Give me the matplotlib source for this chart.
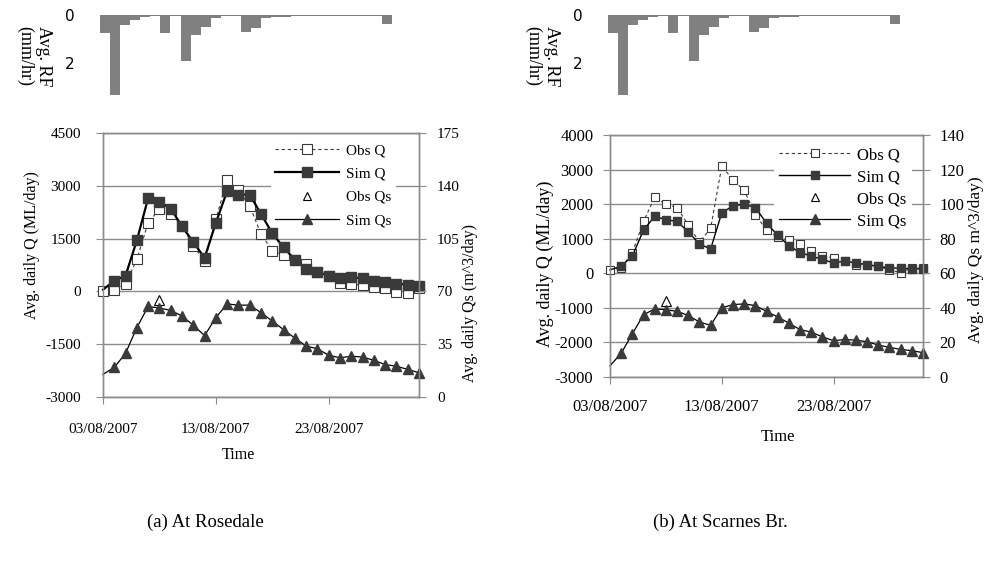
import matplotlib
matplotlib.use("Agg")
import matplotlib.pyplot as plt
import matplotlib.dates as mdates
import numpy as np
import pandas as pd
from matplotlib.lines import Line2D

plt.rcParams["axes.unicode_minus"] = False

W, H = 984, 564

# ---- data -------------------------------------------------------------
dates = pd.date_range("2007-08-03", "2007-08-31", freq="D")
tick_dates = pd.to_datetime(["2007-08-03", "2007-08-13", "2007-08-23"])

# catchment-average rainfall (mm/hr), one bar per day
rain = [0.76, 4.0, 0.41, 0.20, 0.07, 0.04, 0.76, 0.04, 1.89, 0.83,
        0.48, 0.14, 0.04, 0.04, 0.72, 0.55, 0.14, 0.07, 0.07, 0.05,
        0.05, 0.05, 0.05, 0.05, 0.05, 0.05, 0.05, 0.05, 0.37]

# Rosedale
rose_obs_q = [0, 50, 200, 910, 1950, 2340, 2190, 1860, 1300, 850,
              2050, 3170, 2870, 2430, 1630, 1160, 1020, 900, 770, 560,
              430, 240, 220, 170, 125, 105, -20, -40, 90]
rose_sim_q = [50, 300, 450, 1450, 2650, 2550, 2350, 1850, 1400, 950,
              1950, 2850, 2750, 2750, 2200, 1650, 1250, 900, 650, 550,
              450, 380, 400, 370, 300, 260, 220, 190, 140]
rose_sim_qs = [15, 19.6, 29, 46, 60, 59, 57.4, 53.7, 47.6, 40.7,
               52.6, 61.7, 60.9, 60.9, 55.9, 50.4, 44.6, 39.1, 33.7, 32,
               27.6, 26, 27, 26.5, 24.3, 21.5, 20.4, 18.3, 16.1]
rose_obs_qs = [np.nan] * 5 + [64] + [np.nan] * 23

# Scarnes Bridge
scar_obs_q = [100, 150, 600, 1500, 2200, 2000, 1900, 1400, 900, 1300,
              3100, 2700, 2400, 1700, 1250, 1050, 950, 850, 650, 500,
              450, 350, 250, 250, 200, 100, 20, 150, 150]
scar_sim_q = [100, 200, 500, 1250, 1650, 1550, 1500, 1200, 850, 700,
              1750, 1950, 2000, 1900, 1450, 1100, 800, 600, 500, 400,
              300, 350, 300, 250, 200, 150, 150, 130, 130]
scar_sim_qs = [6.5, 13.7, 25, 36, 39.4, 38.9, 38, 35.6, 31.8, 29.9,
               40, 41.9, 42.3, 41.3, 38, 34.7, 31.2, 27.4, 26, 23.2,
               21, 21.7, 21.3, 20.4, 18.5, 17.1, 16, 15.2, 14.1]
scar_obs_qs = [np.nan] * 5 + [44] + [np.nan] * 23

q_ticks_rose = [-3000, -1500, 0, 1500, 3000, 4500]
qs_ticks_rose = [0, 35, 70, 105, 140, 175]
q_ticks_scar = [-3000, -2000, -1000, 0, 1000, 2000, 3000, 4000]
qs_ticks_scar = [0, 20, 40, 60, 80, 100, 120, 140]

legend_labels = ["Obs Q", "Sim Q", "Obs Qs", "Sim Qs"]

# ---- styling ----------------------------------------------------------
SERIF = "Liberation Serif"
GRID = "#8c8c8c"
DARK = "#3a3a3a"
BAR = "#808080"


def box(x0, y0, x1, y1):
    return [x0 / W, 1 - y1 / H, (x1 - x0) / W, (y1 - y0) / H]


fig = plt.figure(figsize=(W / 100, H / 100), dpi=100)


def rain_panel(x0, x1):
    ax = fig.add_axes(box(x0, 15, x1, 95))
    ax.bar(np.arange(len(rain)), rain, width=1.0, align="edge",
           color=BAR, linewidth=0)
    ax.set_xlim(0, len(rain))
    ax.set_ylim(3.3, 0)
    ax.set_yticks([0, 2])
    ax.set_yticklabels(["0", "2"], fontsize=11, family="DejaVu Sans")
    ax.tick_params(axis="y", length=0, pad=18)
    ax.set_xticks([])
    for s in ax.spines.values():
        s.set_visible(False)
    return ax


def flow_panel(rect, obs_q, sim_q, obs_qs, sim_qs, qt, qst, fs, ms_sq,
               ms_tri, simq_lw, xpad, ypadl, ypadr, leg_anchor, leg_fs,
               leg_space, leg_hl):
    ax = fig.add_axes(rect)
    ax2 = ax.twinx()
    ax.plot(dates, obs_q, ls=(0, (3, 2.5)), lw=0.8, color=DARK,
            marker="s", ms=ms_sq, mfc="white", mec=DARK, mew=0.8,
            clip_on=False, zorder=3)
    ax.plot(dates, sim_q, ls="-", lw=simq_lw, color="black",
            marker="s", ms=ms_sq, mfc=DARK, mec=DARK,
            markevery=list(range(1, len(dates))),
            clip_on=False, zorder=4)
    ax2.plot(dates, obs_qs, ls="none", marker="^", ms=ms_tri,
             mfc="white", mec="black", mew=0.8, clip_on=False)
    ax2.plot(dates, sim_qs, ls="-", lw=0.9, color="black",
             marker="^", ms=ms_tri, mfc=DARK, mec=DARK,
             markevery=list(range(1, len(dates))), clip_on=False)

    ax.set_xlim(dates[0], dates[-1])
    ax.set_ylim(qt[0], qt[-1])
    ax.set_yticks(qt)
    ax2.set_ylim(qst[0], qst[-1])
    ax2.set_yticks(qst)
    ax.set_xticks(tick_dates)
    ax.xaxis.set_major_formatter(mdates.DateFormatter("%d/%m/%Y"))
    ax.grid(axis="y", color=GRID, lw=1.0, zorder=0.5)
    ax.set_axisbelow(True)

    for a in (ax, ax2):
        for s in a.spines.values():
            s.set_color(GRID)
            s.set_linewidth(1.0)
    ax.tick_params(axis="x", direction="out", length=5, color=GRID,
                   pad=xpad, labelsize=fs)
    ax.tick_params(axis="y", direction="out", length=5, color=GRID,
                   pad=ypadl, labelsize=fs)
    ax2.tick_params(axis="y", direction="out", length=5, color=GRID,
                    pad=ypadr, labelsize=fs)
    for lab in ax.get_xticklabels() + ax.get_yticklabels() + ax2.get_yticklabels():
        lab.set_family(SERIF)

    h1 = Line2D([], [], ls=(0, (3, 2.5)), lw=0.8, color=DARK, marker="s",
                ms=ms_sq, mfc="white", mec=DARK, mew=0.8)
    h2 = Line2D([], [], ls="-", lw=simq_lw, color="black", marker="s",
                ms=ms_sq, mfc=DARK, mec=DARK)
    h3 = Line2D([], [], ls="none", marker="^", ms=ms_tri * 0.8,
                mfc="white", mec="black", mew=0.8)
    h4 = Line2D([], [], ls="-", lw=0.9, color="black", marker="^",
                ms=ms_tri, mfc=DARK, mec=DARK)
    # legend sits above the gridlines but below the plotted series
    leg = ax.legend([h1, h2, h3, h4], legend_labels, loc="upper right",
                    bbox_to_anchor=leg_anchor, frameon=True,
                    facecolor="white", edgecolor="none", framealpha=1,
                    prop={"family": SERIF, "size": leg_fs},
                    handlelength=leg_hl, handletextpad=0.4,
                    labelspacing=leg_space, borderpad=0.3)
    leg.set_zorder(2)
    return ax, ax2


# ---- (a) Rosedale -----------------------------------------------------
rain_panel(100, 392)
flow_panel(box(103, 133, 419, 397), rose_obs_q, rose_sim_q, rose_obs_qs,
           rose_sim_qs, q_ticks_rose, qs_ticks_rose, fs=11, ms_sq=6.5,
           ms_tri=7.5, simq_lw=1.6, xpad=14, ypadl=11, ypadr=8,
           leg_anchor=(0.95, 1.005), leg_fs=11, leg_space=0.62, leg_hl=4.2)

# ---- (b) Scarnes Br. --------------------------------------------------
rain_panel(608, 900)
flow_panel(box(610, 135, 923, 377), scar_obs_q, scar_sim_q, scar_obs_qs,
           scar_sim_qs, q_ticks_scar, qs_ticks_scar, fs=12, ms_sq=5.5,
           ms_tri=7.5, simq_lw=1.0, xpad=11, ypadl=7, ypadr=7,
           leg_anchor=(0.99, 1.005), leg_fs=12, leg_space=0.36, leg_hl=4.3)


def ftext(x, y, s, **kw):
    fig.text(x / W, 1 - y / H, s, ha="center", va="center", **kw)


# rainfall axis titles (read top to bottom)
for xc in (34, 542):
    ftext(xc, 56, "Avg. RF\n(mm/hr)", rotation=270, family=SERIF,
          fontsize=13, linespacing=1.1)

# flow axis titles
ftext(32, 245, "Avg. daily Q (ML/day)", rotation=90, family=SERIF, fontsize=11.5)
ftext(470, 303, "Avg. daily Qs (m^3/day)", rotation=90, family=SERIF, fontsize=11.5)
ftext(238, 455, "Time", family=SERIF, fontsize=11.5)

ftext(545, 264, "Avg. daily Q (ML/day)", rotation=90, family=SERIF, fontsize=13)
ftext(976, 260, "Avg. daily Qs m^3/day)", rotation=90, family=SERIF, fontsize=12.5)
ftext(778, 437, "Time", family=SERIF, fontsize=12)

# captions
ftext(205, 522, "(a) At Rosedale", family=SERIF, fontsize=13.5)
ftext(720, 522, "(b) At Scarnes Br.", family=SERIF, fontsize=13.5)

fig.savefig("out.png", dpi=100)
